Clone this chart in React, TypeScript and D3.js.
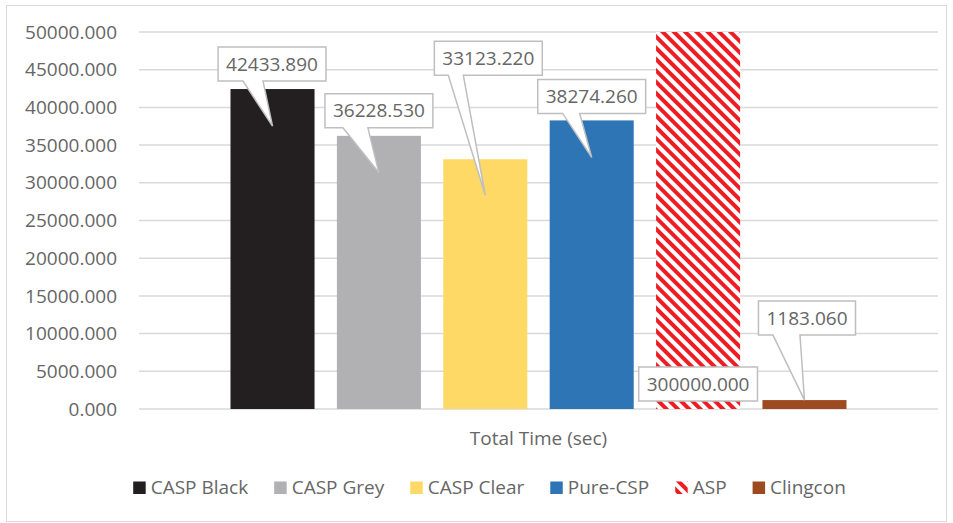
import React, { useEffect, useRef } from 'react';
import * as d3 from 'd3';

const categories = ['Total Time (sec)'];
const seriesNames = ['CASP Black', 'CASP Grey', 'CASP Clear', 'Pure-CSP', 'ASP', 'Clingcon'];
const seriesValues = [42433.89, 36228.53, 33123.22, 38274.26, 300000, 1183.06];
const yTicks = [0, 5000, 10000, 15000, 20000, 25000, 30000, 35000, 40000, 45000, 50000];
const seriesColors = ['#231F20', '#B1B1B3', '#FFD966', '#2E75B6', 'url(#aspStripes)', '#9E4A20'];

// callout placement relative to the bar (layout only)
const labelLayout = [
  { dx: -0.5, dy: -42, tipDy: 37, baseL: -29, baseR: -9 },
  { dx: 0, dy: -42, tipDy: 37, baseL: -36, baseR: -11 },
  { dx: 3, dy: -118, tipDy: 36, baseL: -40, baseR: -25 },
  { dx: 0, dy: -41, tipDy: 37, baseL: -29, baseR: -12 },
  { dx: 0, dy: 335, tipDy: null as number | null, baseL: 0, baseR: 0 },
  { dx: 2.5, dy: -99, tipDy: 0, baseL: -34, baseR: -7 },
];

const W = 953;
const H = 523;
const FONT = "'Open Sans', 'Noto Sans', sans-serif";
const TEXT = '#666666';

export default function App() {
  const ref = useRef<SVGSVGElement | null>(null);

  useEffect(() => {
    const svg = d3.select(ref.current);
    svg.selectAll('*').remove();

    const defs = svg.append('defs');
    const pat = defs
      .append('pattern')
      .attr('id', 'aspStripes')
      .attr('patternUnits', 'userSpaceOnUse')
      .attr('width', 8)
      .attr('height', 8)
      .attr('patternTransform', 'rotate(45)');
    pat.append('rect').attr('width', 8).attr('height', 8).attr('fill', '#ffffff');
    pat.append('rect').attr('width', 8).attr('height', 4).attr('fill', '#EE1D23');

    // chart border
    svg
      .append('rect')
      .attr('x', 6.5)
      .attr('y', 5.5)
      .attr('width', 940)
      .attr('height', 516)
      .attr('fill', '#fff')
      .attr('stroke', '#D9D9D9')
      .attr('stroke-width', 1);

    const plotL = 139;
    const plotR = 938;
    const y = d3.scaleLinear().domain([0, 50000]).range([409, 32]).clamp(true);
    const x0 = d3.scaleBand<string>().domain(categories).range([plotL, plotR]).padding(0);
    const x1 = d3
      .scaleBand<string>()
      .domain(seriesNames)
      .range([0, x0.bandwidth()])
      .paddingInner(0.21)
      .paddingOuter(0.86);

    // grid + ticks
    const grid = svg.append('g');
    yTicks.forEach((t) => {
      grid
        .append('line')
        .attr('x1', plotL)
        .attr('x2', plotR)
        .attr('y1', y(t))
        .attr('y2', y(t))
        .attr('stroke', '#D9D9D9')
        .attr('stroke-width', 1.5);
      grid
        .append('text')
        .attr('x', 117)
        .attr('y', y(t))
        .attr('dy', '0.35em')
        .attr('text-anchor', 'end')
        .attr('font-family', FONT)
        .attr('font-size', 19)
        .attr('fill', TEXT)
        .text(d3.format('.3f')(t));
    });

    // bars
    const cx0 = x0(categories[0]) as number;
    const bars = svg.append('g');
    seriesNames.forEach((s, i) => {
      const v = seriesValues[i];
      const bx = cx0 + (x1(s) as number);
      bars
        .append('rect')
        .attr('x', bx)
        .attr('y', y(v))
        .attr('width', x1.bandwidth())
        .attr('height', y(0) - y(v))
        .attr('fill', seriesColors[i]);
    });

    // callout labels
    const labels = svg.append('g');
    seriesNames.forEach((s, i) => {
      const v = seriesValues[i];
      const L = labelLayout[i];
      const bc = cx0 + (x1(s) as number) + x1.bandwidth() / 2;
      const top = y(v);
      const g = labels.append('g');
      const path = g.append('path');
      const txt = g
        .append('text')
        .attr('font-family', FONT)
        .attr('font-size', 19)
        .attr('fill', TEXT)
        .attr('text-anchor', 'middle')
        .text(d3.format('.3f')(v));
      const tw = (txt.node() as SVGTextElement).getComputedTextLength();
      const bw = tw + 16;
      const bh = 34;
      const cx = bc + L.dx;
      const bx0 = cx - bw / 2;
      const bx1 = cx + bw / 2;
      const by0 = top + L.dy;
      const by1 = by0 + bh;
      txt.attr('x', cx).attr('y', by0 + bh / 2).attr('dy', '0.35em');
      let d: string;
      if (L.tipDy === null) {
        d = `M${bx0},${by0}H${bx1}V${by1}H${bx0}Z`;
      } else {
        const tx = bc;
        const ty = top + L.tipDy;
        d = `M${bx0},${by0}H${bx1}V${by1}H${cx + L.baseR}L${tx},${ty}L${cx + L.baseL},${by1}H${bx0}Z`;
      }
      path
        .attr('d', d)
        .attr('fill', '#ffffff')
        .attr('stroke', '#BFBFBF')
        .attr('stroke-width', 1.5)
        .attr('stroke-linejoin', 'miter');
    });

    // axis title
    svg
      .append('text')
      .attr('x', (plotL + plotR) / 2)
      .attr('y', 438)
      .attr('dy', '0.35em')
      .attr('text-anchor', 'middle')
      .attr('font-family', FONT)
      .attr('font-size', 19)
      .attr('fill', TEXT)
      .text(categories[0]);

    // legend
    const leg = svg.append('g');
    const items: { g: any; w: number }[] = [];
    seriesNames.forEach((s, i) => {
      const g = leg.append('g');
      g.append('rect')
        .attr('x', 0)
        .attr('y', 481.5)
        .attr('width', 12.5)
        .attr('height', 12.5)
        .attr('fill', seriesColors[i]);
      const t = g
        .append('text')
        .attr('x', 17.5)
        .attr('y', 487.8)
        .attr('dy', '0.35em')
        .attr('font-family', FONT)
        .attr('font-size', 19)
        .attr('fill', TEXT)
        .text(s);
      const w = 17.5 + (t.node() as SVGTextElement).getComputedTextLength();
      items.push({ g, w });
    });
    const gap = 26;
    const total = items.reduce((a, b) => a + b.w, 0) + gap * (items.length - 1);
    let cur = 489.5 - total / 2;
    items.forEach((it) => {
      it.g.attr('transform', `translate(${cur},0)`);
      cur += it.w + gap;
    });
  }, []);

  return (
    <div style={{ position: 'fixed', left: 0, top: 0, width: W, height: H, background: '#fff' }}>
      <svg ref={ref} width={W} height={H} style={{ display: 'block' }} />
    </div>
  );
}
